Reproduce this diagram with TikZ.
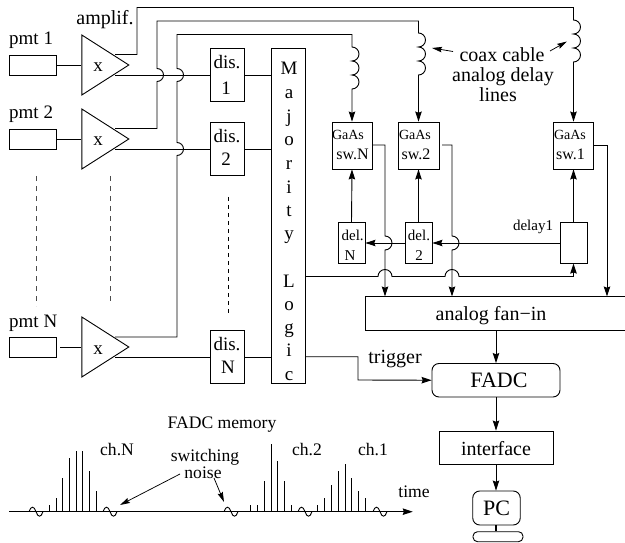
\documentclass[tikz,border=0pt]{standalone}
\usepackage{fontspec}
\setmainfont{Liberation Serif}
\usetikzlibrary{arrows.meta,shapes.geometric}
\tikzset{
  wire/.style={line width=0.9pt,black},
  arrowwire/.style={wire,-{Stealth[length=10pt,width=6.5pt,inset=1.2pt]}},
  thinarrow/.style={line width=0.75pt,black,-{Stealth[length=10pt,width=5.5pt,inset=1.5pt]}},
  boxn/.style={draw,line width=0.9pt,black,rectangle,inner sep=0pt,text=black},
  roundn/.style={boxn,rounded corners=7pt},
  ampn/.style={draw,line width=0.9pt,black,isosceles triangle,isosceles triangle stretches,minimum width=60pt,minimum height=47pt,inner sep=0pt,anchor=apex},
  tbase/.style={inner sep=0pt,anchor=base,text=black},
  t20/.style={tbase,font=\fontsize{20}{22}\selectfont},
  t19/.style={tbase,font=\fontsize{19}{21}\selectfont},
  t18/.style={tbase,font=\fontsize{17.6}{20}\selectfont},
  t16/.style={tbase,font=\fontsize{16}{18}\selectfont},
  t15/.style={tbase,font=\fontsize{15}{17}\selectfont},
  t14/.style={tbase,font=\fontsize{14}{16}\selectfont},
  dots/.style={line width=0.8pt,black!70,dash pattern=on 5pt off 5pt},
}
\newcommand{\coilpath}{arc[start angle=90,end angle=-90,radius=7pt] arc[start angle=90,end angle=-90,radius=7pt] arc[start angle=90,end angle=-90,radius=7pt]}
\begin{document}
\begin{tikzpicture}[x=1pt,y=-1pt]
\useasboundingbox (0,0) rectangle (625,543);
% photomultipliers
\node[boxn,minimum width=47.5pt,minimum height=20pt] (pmt1) at (33,65) {};
\node[boxn,minimum width=47.5pt,minimum height=20pt] (pmt2) at (33,139) {};
\node[boxn,minimum width=47.5pt,minimum height=20pt] (pmtN) at (33,347) {};
\node[t19,anchor=base west] (lpmt1) at (9,45) {pmt 1};
\node[t19,anchor=base west] (lpmt2) at (9,119) {pmt 2};
\node[t19,anchor=base west] (lpmtN) at (9,327.7) {pmt N};
% amplifiers
\node[ampn] (a1) at (130,65) {};
\node[ampn] (a2) at (130,139) {};
\node[ampn] (aN) at (130,347) {};
\node[t19] (x1) at (98,71.7) {x};
\node[t19] (x2) at (98,145.7) {x};
\node[t19] (xN) at (98,354) {x};
\node[t20] (lamp) at (105,25) {amplif.};
% discriminators
\node[boxn,minimum width=34pt,minimum height=53pt] (d1) at (227,75) {};
\node[boxn,minimum width=34pt,minimum height=53pt] (d2) at (227,149) {};
\node[boxn,minimum width=34pt,minimum height=53pt] (dN) at (227,357) {};
\node[t19] (ld1a) at (227,68.3) {dis.};
\node[t19] (ld1b) at (226,95) {1};
\node[t19] (ld2a) at (227,142.7) {dis.};
\node[t19] (ld2b) at (226,165.7) {2};
\node[t19] (ldNa) at (227,350) {dis.};
\node[t19] (ldNb) at (228,373) {N};
% majority logic
\node[boxn,minimum width=34pt,minimum height=335.5pt] (maj) at (288,215.75) {};
\foreach \yy/\ch [count=\i] in {75/M,99/a,123/j,145.7/o,169/r,193.3/i,216/t,240/y,287.3/L,310/o,333/g,356.7/i,380/c}
  \node[t19] (m\i) at (289,\yy) {\ch};
% GaAs switches
\node[boxn,minimum width=40pt,minimum height=47pt] (swN) at (352,145.5) {};
\node[boxn,minimum width=41pt,minimum height=47pt] (sw2) at (418.5,145.5) {};
\node[boxn,minimum width=40pt,minimum height=47pt] (sw1) at (573.5,145.5) {};
\node[t14] (lsNa) at (348,139.3) {GaAs};
\node[t16] (lsNb) at (352.5,159.3) {sw.N};
\node[t14] (ls2a) at (415,139.3) {GaAs};
\node[t16] (ls2b) at (416,159.3) {sw.2};
\node[t14] (ls1a) at (570,139.3) {GaAs};
\node[t16] (ls1b) at (570.5,159.3) {sw.1};
% delays
\node[boxn,minimum width=27pt,minimum height=40.3pt] (delN) at (351.5,243) {};
\node[boxn,minimum width=27pt,minimum height=40.3pt] (del2) at (418.5,243) {};
\node[boxn,minimum width=27pt,minimum height=40.3pt] (del1) at (573.5,243) {};
\node[t15] (ldNx) at (352.7,240.7) {del.};
\node[t15] (ldNy) at (350,260) {N};
\node[t15] (ld2x) at (419,240.7) {del.};
\node[t15] (ld2y) at (419,260) {2};
\node[t15] (ld1) at (533,230) {delay1};
% fan-in, FADC, interface, PC
\node[boxn,minimum width=261pt,minimum height=33.5pt] (fan) at (495.5,313.25) {};
\node[t20] (lfan) at (491,320) {analog fan−in};
\node[roundn,minimum width=128pt,minimum height=33.5pt] (fadc) at (496,380.25) {};
\node[tbase,font=\fontsize{22}{24}\selectfont] (lfadc) at (499,387.3) {FADC};
\node[boxn,minimum width=114pt,minimum height=33pt] (intf) at (496,447.5) {};
\node[t20] (lintf) at (496,455) {interface};
\node[roundn,minimum width=47.5pt,minimum height=34pt] (pc) at (496.5,508) {};
\node[tbase,font=\fontsize{22}{24}\selectfont] (lpc) at (496.5,515) {PC};
\node[boxn,rounded corners=4.5pt,minimum width=50pt,minimum height=10pt] (base) at (498,536.7) {};
% labels
\node[t20] (lcoax1) at (502,61.7) {coax cable};
\node[t20] (lcoax2) at (503,81.7) {analog delay};
\node[t20] (lcoax3) at (498,101.7) {lines};
\node[t20] (ltrig) at (395,363.3) {trigger};
\node[t18] (lmem) at (222,428.3) {FADC memory};
\node[t18] (lchN) at (117,455) {ch.N};
\node[t18] (lch2) at (307,455) {ch.2};
\node[t18] (lch1) at (373,455) {ch.1};
\node[t18] (lsw) at (205,461) {switching};
\node[t18] (lno) at (203,478) {noise};
\node[t18] (ltime) at (414,497.7) {time};
% free ends and bends
\coordinate (a1hi) at (115,54.5);
\coordinate (a2hi) at (115,128.5);
\coordinate (aNhi) at (115,337);
\coordinate (a1lo) at (115,75);
\coordinate (a2lo) at (115,149);
\coordinate (aNlo) at (115,357);
\coordinate (pNe) at (60,347);
% pmt to amp
\draw[wire] (pmt1.east) -- (a1.lower side |- pmt1.east);
\draw[wire] (pmt2.east) -- (a2.lower side |- pmt2.east);
\draw[wire] (pNe) -- (aN.lower side |- pNe);
% amp to discriminators
\draw[wire] (a1lo) -- (d1.west);
\draw[wire] (a2lo) -- (d2.west);
\draw[wire] (aNlo) -- (dN.west);
\draw[wire] (d1.east) -- (maj.west |- d1.east);
\draw[wire] (d2.east) -- (maj.west |- d2.east);
\draw[wire] (dN.east) -- (maj.west |- dN.east);
% analog lines with delay coils
\draw[arrowwire] (a1hi) -- (137,54.5) -- (137,7.5) -- (573.5,7.5) -- (573.5,20) \coilpath -- (sw1.north);
\draw[arrowwire] (a2hi) -- (157,128.5) -- (157,81.5) arc[start angle=-90,end angle=90,radius=6.5pt] -- (157,21) -- (418.5,21) -- (418.5,33) \coilpath -- (sw2.north);
\draw[arrowwire] (aNhi) -- (177,337) -- (177,155.5) arc[start angle=-90,end angle=90,radius=6.5pt] -- (177,81.5) arc[start angle=-90,end angle=90,radius=6.5pt] -- (177,34.5) -- (352,34.5) -- (352,47) \coilpath -- (swN.north);
% switch outputs to fan-in
\draw[arrowwire] (swN.east |- 0,145) -- (385,145) -- (385,236) arc[start angle=90,end angle=-90,radius=7pt] -- (385,296.5);
\draw[arrowwire] (442,145) -- (452,145) -- (452,236) arc[start angle=90,end angle=-90,radius=7pt] -- (452,296.5);
\draw[arrowwire] (sw1.east |- 0,145) -- (607,145) -- (607,296.5);
% delay chain
\draw[arrowwire] (delN.north) -- (swN.south);
\draw[arrowwire] (del2.north) -- (sw2.south);
\draw[arrowwire] (del1.north) -- (sw1.south);
\draw[arrowwire] (del1.west) -- (del2.east);
\draw[arrowwire] (del2.west) -- (delN.east);
\draw[arrowwire] (maj.east |- 0,276.5) -- (378,276.5) arc[start angle=180,end angle=0,radius=7pt] -- (445,276.5) arc[start angle=180,end angle=0,radius=7pt] -- (573.5,276.5) -- (del1.south);
% readout chain
\draw[arrowwire] (maj.east |- 0,356.7) -- (358,356.7) -- (358,380) -- (fadc.west);
\draw[arrowwire] (fan.south -| fadc.north) -- (fadc.north);
\draw[arrowwire] (fadc.south) -- (intf.north);
\draw[arrowwire] (intf.south) -- (pc.north -| intf.south);
\draw[wire,line width=1.3pt] (pc.south -| intf.south) -- (base.north -| intf.south);
% dots
\draw[dots] (36,176) -- (36,306);
\draw[dots] (110,176) -- (110,303);
\draw[line width=0.7pt,black,dash pattern=on 4pt off 4pt] (228,197) -- (228,313);
% annotation arrows
\draw[thinarrow] (453,51.5) -- (432,48);
\draw[thinarrow] (550,51) -- (567,41.5);
\draw[thinarrow] (180,474) -- (120,505);
\draw[thinarrow] (214,478) -- (224,502);
% memory trace
\draw[arrowwire] (9,511.7) -- (412.7,511.7);
\foreach \xx/\yy in {49/505,56/498,62.7/478,69.3/458,76/451,82.7/451,89.3/471,96.3/491,250.7/505,257.3/505,264.3/481,271/444,277.7/461,284.3/481,291/505,317.7/505,324.3/498,331.7/485,338.3/471,345/464,351.7/478,358.3/491,365/498}
  \draw[wire] (\xx,511.7) -- (\xx,\yy);
\foreach \xx in {36,110,231,305,380}
  \draw[wire] ({\xx-7},511.7) .. controls ({\xx-5},505.7) and ({\xx-2},505.7) .. (\xx,511.7) .. controls ({\xx+2},517.7) and ({\xx+5},517.7) .. ({\xx+7},511.7);
\end{tikzpicture}
\end{document}
